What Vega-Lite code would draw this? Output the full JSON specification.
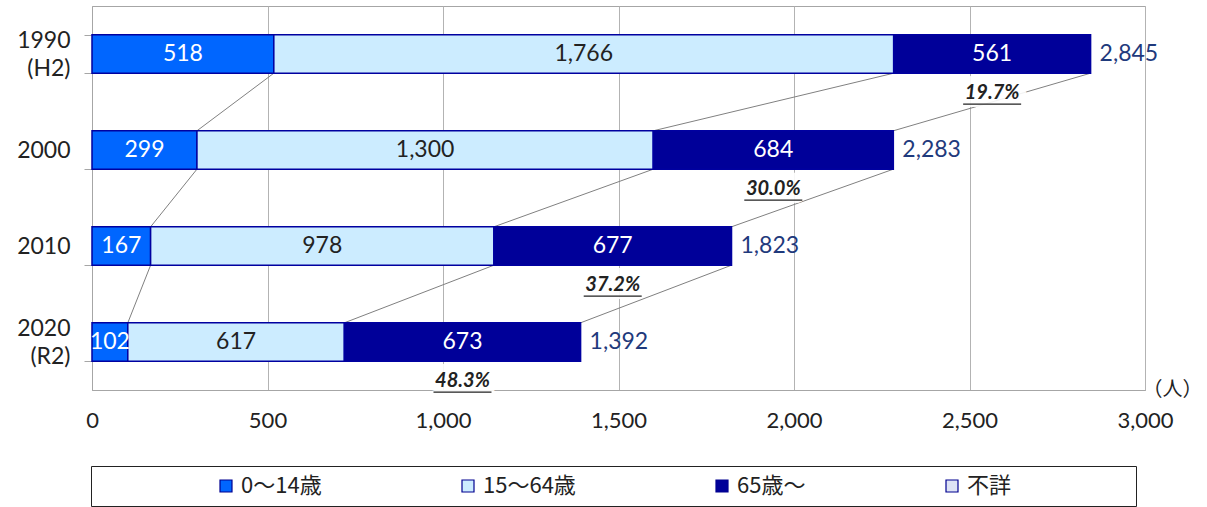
{
  "$schema": "https://vega.github.io/schema/vega-lite/v6.json",
  "width": 1053,
  "height": 384,
  "autosize": {"type": "none"},
  "padding": {"left": 92, "top": 6, "right": 62, "bottom": 117},
  "config": {
    "font": "Lato",
    "view": {"stroke": "#A6A6A6", "strokeWidth": 1},
    "axisX": {"grid": true, "gridColor": "#B3B3B3", "domainColor": "#A6A6A6", "ticks": false, "labelFlush": false, "labelFontSize": 22, "labelColor": "#222222", "labelPadding": 20, "labelExpr": "format(datum.value, ',')", "titleFont": "Noto Sans CJK JP", "titleFontSize": 20, "titleFontWeight": "normal", "titleColor": "#222222", "titleX": 1080, "titleY": -1, "titleAlign": "center", "titleBaseline": "middle"},
    "axisY": {"grid": false, "domainColor": "#A6A6A6", "tickColor": "#A6A6A6", "tickSize": 8, "tickBand": "extent", "labelFontSize": 23, "labelColor": "#222222", "labelPadding": 14, "labelLineHeight": 28}
  },
  "datasets": {
    "pop": [
      {"year": "1990", "group": "0～14歳", "order": 1, "value": 518},
      {"year": "1990", "group": "15～64歳", "order": 2, "value": 1766},
      {"year": "1990", "group": "65歳～", "order": 3, "value": 561, "total": 2845, "pct": "19.7%"},
      {"year": "2000", "group": "0～14歳", "order": 1, "value": 299},
      {"year": "2000", "group": "15～64歳", "order": 2, "value": 1300},
      {"year": "2000", "group": "65歳～", "order": 3, "value": 684, "total": 2283, "pct": "30.0%"},
      {"year": "2010", "group": "0～14歳", "order": 1, "value": 167},
      {"year": "2010", "group": "15～64歳", "order": 2, "value": 978},
      {"year": "2010", "group": "65歳～", "order": 3, "value": 677, "total": 1823, "pct": "37.2%"},
      {"year": "2020", "group": "0～14歳", "order": 1, "value": 102},
      {"year": "2020", "group": "15～64歳", "order": 2, "value": 617},
      {"year": "2020", "group": "65歳～", "order": 3, "value": 673, "total": 1392, "pct": "48.3%"}
    ],
    "links": [
      {"from": "1990", "to": "2000", "a": 518, "b": 299},
      {"from": "1990", "to": "2000", "a": 2284, "b": 1599},
      {"from": "1990", "to": "2000", "a": 2845, "b": 2283},
      {"from": "2000", "to": "2010", "a": 299, "b": 167},
      {"from": "2000", "to": "2010", "a": 1599, "b": 1145},
      {"from": "2000", "to": "2010", "a": 2283, "b": 1822},
      {"from": "2010", "to": "2020", "a": 167, "b": 102},
      {"from": "2010", "to": "2020", "a": 1145, "b": 719},
      {"from": "2010", "to": "2020", "a": 1822, "b": 1392}
    ]
  },
  "layer": [
    {
      "data": {"name": "links"},
      "mark": {"type": "rule", "color": "#808080", "strokeWidth": 1},
      "encoding": {
        "y": {"field": "from", "type": "nominal", "bandPosition": 1, "title": null, "scale": {"domain": ["1990", "2000", "2010", "2020"], "paddingInner": 0.6, "paddingOuter": 0.3}},
        "y2": {"field": "to", "bandPosition": 0},
        "x": {"field": "a", "type": "quantitative", "title": "（人）", "scale": {"domain": [0, 3000], "nice": false}, "axis": {"values": [0, 500, 1000, 1500, 2000, 2500, 3000]}},
        "x2": {"field": "b"}
      }
    },
    {
      "data": {"name": "pop"},
      "transform": [
        {"stack": "value", "groupby": ["year"], "sort": [{"field": "order"}], "as": ["v0", "v1"]},
        {"calculate": "(datum.v0 + datum.v1) / 2", "as": "mid"}
      ],
      "encoding": {
        "y": {
          "field": "year", "type": "nominal", "title": null,
          "scale": {"domain": ["1990", "2000", "2010", "2020"], "paddingInner": 0.6, "paddingOuter": 0.3},
          "axis": {
            "labelExpr": "datum.value == '1990' ? ['1990', '(H2)'] : datum.value == '2020' ? ['2020', '(R2)'] : datum.value",
            "labelOffset": {"condition": {"test": "datum.value == '1990' || datum.value == '2020'", "value": -14}, "value": 0}
          }
        }
      },
      "layer": [
        {
          "mark": {"type": "bar", "stroke": "#0000A0", "strokeWidth": 1.5},
          "encoding": {
            "x": {"field": "v0", "type": "quantitative", "title": "（人）", "scale": {"domain": [0, 3000], "nice": false}, "axis": {"values": [0, 500, 1000, 1500, 2000, 2500, 3000]}},
            "x2": {"field": "v1"},
            "color": {
              "field": "group", "type": "nominal",
              "scale": {"domain": ["0～14歳", "15～64歳", "65歳～", "不詳"], "range": ["#0066FF", "#CCECFF", "#000099", "#DDE3F5"]},
              "legend": {
                "orient": "none", "legendX": -1, "legendY": 460, "direction": "horizontal", "columns": 4, "gridAlign": "none",
                "title": ".", "titleOrient": "right", "titleOpacity": 0, "titlePadding": 113, "titleFontSize": 10,
                "symbolType": "square", "symbolSize": 144, "symbolStrokeColor": "#000090", "symbolStrokeWidth": 1.2,
                "labelFont": "Noto Sans CJK JP", "labelFontSize": 22, "labelColor": "#222222",
                "strokeColor": "#222222", "padding": 9,
                "columnPadding": 20, "symbolOffset": 115, "labelOffset": 4
              }
            }
          }
        },
        {
          "mark": {"type": "text", "fontSize": 23, "baseline": "middle", "align": "center"},
          "encoding": {
            "x": {"field": "mid", "type": "quantitative", "title": "（人）"},
            "text": {"field": "value", "type": "quantitative", "format": ","},
            "color": {"condition": {"test": "datum.group === '15～64歳'", "value": "#222222"}, "value": "#FFFFFF"}
          }
        },
        {
          "transform": [{"filter": "datum.group === '65歳～'"}],
          "mark": {"type": "text", "fontSize": 23, "baseline": "middle", "align": "left", "dx": 9, "color": "#1F3A7C"},
          "encoding": {
            "x": {"field": "v1", "type": "quantitative", "title": "（人）"},
            "text": {"field": "total", "type": "quantitative", "format": ","}
          }
        },
        {
          "transform": [{"filter": "datum.group === '65歳～'"}],
          "mark": {"type": "text", "fontSize": 20, "fontStyle": "italic", "fontWeight": "bold", "baseline": "middle", "align": "center", "fill": "#FFFFFF", "stroke": "#FFFFFF", "strokeWidth": 16, "strokeJoin": "round", "opacity": 0.9, "yOffset": 20},
          "encoding": {
            "x": {"field": "mid", "type": "quantitative", "title": "（人）"},
            "y": {"field": "year", "type": "nominal", "bandPosition": 1},
            "text": {"field": "pct"}
          }
        },
        {
          "transform": [{"filter": "datum.group === '65歳～'"}],
          "mark": {"type": "text", "fontSize": 20, "fontStyle": "italic", "fontWeight": "bold", "baseline": "middle", "align": "center", "color": "#222222", "yOffset": 20},
          "encoding": {
            "x": {"field": "mid", "type": "quantitative", "title": "（人）"},
            "y": {"field": "year", "type": "nominal", "bandPosition": 1},
            "text": {"field": "pct"}
          }
        },
        {
          "transform": [{"filter": "datum.group === '65歳～'"}],
          "mark": {"type": "rule", "color": "#222222", "strokeWidth": 1.3, "xOffset": -29, "x2Offset": 29, "yOffset": 31},
          "encoding": {
            "x": {"field": "mid", "type": "quantitative", "title": "（人）"},
            "x2": {"field": "mid"},
            "y": {"field": "year", "type": "nominal", "bandPosition": 1}
          }
        }
      ]
    }
  ]
}
